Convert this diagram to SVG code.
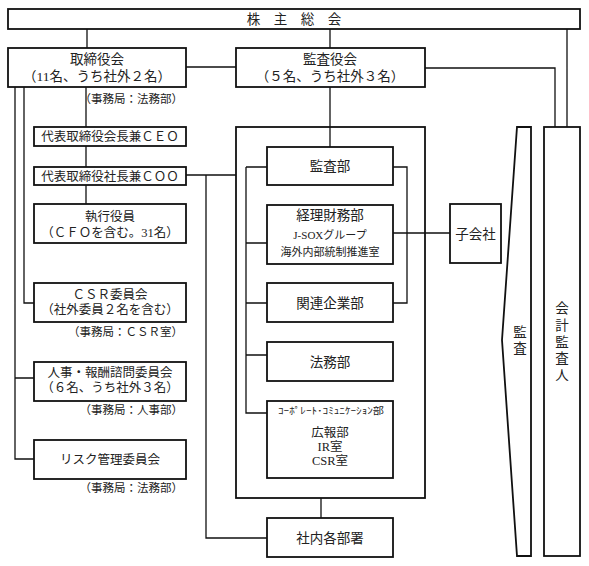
<svg xmlns="http://www.w3.org/2000/svg" width="589" height="566" viewBox="0 0 589 566">
<style>
text{font-family:"Liberation Serif","Noto Sans CJK JP",serif;fill:#222;font-size:12.5px;text-anchor:middle}
.box{fill:#fff;stroke:#111;stroke-width:1.8}
.ln{fill:none;stroke:#111;stroke-width:1.3}
.sm{font-size:11px}
.lg{font-size:13.5px}
.note{font-size:11.5px;text-anchor:end}
</style>
<rect width="589" height="566" fill="#fff"/>
<g id="connectors">
<path class="ln" d="M87 29V48M330 29V48M186 67H236M425 68H555V127M567 29V127"/>
<path class="ln" d="M86 87V204M24 87V303H34M15 87V459H34M15 378H34"/>
<path class="ln" d="M186 175H236M206 175V538H267"/>
<path class="ln" d="M330 87V147M246 167V413H267M246 167H267M246 243H267M246 303H267M246 355H267"/>
<path class="ln" d="M393 167H407V303H393M393 233H450M321 498V518"/>
</g>
<g id="shareholders"><rect class="box" x="8" y="9" width="572" height="20"/><text class="lg" x="294" y="24">株　主　総　会</text></g>
<g id="board"><rect class="box" x="8" y="48" width="178" height="39"/><text class="lg" x="97" y="64">取締役会</text><text class="lg" x="97" y="81">（11名、うち社外２名）</text></g>
<text class="note" x="183" y="103">（事務局：法務部）</text>
<g id="auditors"><rect class="box" x="236" y="48" width="189" height="39"/><text class="lg" x="330" y="64">監査役会</text><text class="lg" x="330" y="81">（５名、うち社外３名）</text></g>
<g id="ceo"><rect class="box" x="34" y="127" width="152" height="19"/><text x="110" y="141">代表取締役会長兼ＣＥＯ</text></g>
<g id="coo"><rect class="box" x="34" y="167" width="152" height="18"/><text x="110" y="180.5">代表取締役社長兼ＣＯＯ</text></g>
<g id="officers"><rect class="box" x="34" y="204" width="152" height="39"/><text x="110" y="221">執行役員</text><text x="110" y="237">（ＣＦＯを含む。31名）</text></g>
<g id="csr"><rect class="box" x="34" y="283" width="152" height="39"/><text x="110" y="299">ＣＳＲ委員会</text><text x="110" y="314">（社外委員２名を含む）</text></g>
<text class="note" x="183" y="336">（事務局：ＣＳＲ室）</text>
<g id="hr"><rect class="box" x="34" y="362" width="152" height="39"/><text x="110" y="377">人事・報酬諮問委員会</text><text x="110" y="392">（６名、うち社外３名）</text></g>
<text class="note" x="183" y="414">（事務局：人事部）</text>
<g id="risk"><rect class="box" x="34" y="440" width="152" height="39"/><text x="110" y="464">リスク管理委員会</text></g>
<text class="note" x="183" y="492">（事務局：法務部）</text>
<g id="container"><rect class="box" x="236" y="127" width="189" height="371" style="fill:none"/></g>
<g id="audit-dept"><rect class="box" x="267" y="147" width="126" height="38"/><text class="lg" x="330" y="171">監査部</text></g>
<g id="finance"><rect class="box" x="267" y="205" width="126" height="59"/><text class="lg" x="330" y="220">経理財務部</text><text class="sm" x="330" y="239">J-SOXグループ</text><text class="sm" x="330" y="256">海外内部統制推進室</text></g>
<g id="affiliates"><rect class="box" x="267" y="283" width="126" height="39"/><text class="lg" x="330" y="307.5">関連企業部</text></g>
<g id="legal"><rect class="box" x="267" y="342" width="126" height="39"/><text class="lg" x="330" y="366.5">法務部</text></g>
<g id="corpcomm"><rect class="box" x="267" y="401" width="126" height="77"/><text x="331" y="414" style="font-size:9.5px" textLength="106" lengthAdjust="spacingAndGlyphs">ｺｰﾎﾟﾚｰﾄ･ｺﾐｭﾆｹｰｼｮﾝ部</text><text x="330" y="437">広報部</text><text x="330" y="451">IR室</text><text x="330" y="465">CSR室</text></g>
<g id="internal"><rect class="box" x="267" y="518" width="126" height="39"/><text class="lg" x="330" y="542.5">社内各部署</text></g>
<g id="subsidiaries"><rect class="box" x="450" y="204" width="51" height="59"/><text class="lg" x="475.5" y="238.5">子会社</text></g>
<g id="audit"><path class="box" d="M517 127H531V556H517L502 340Z"/><text class="lg" x="520" y="337">監</text><text class="lg" x="520" y="353">査</text></g>
<g id="accountant"><rect class="box" x="544" y="127" width="36" height="429"/><text class="lg" x="562" y="313">会</text><text class="lg" x="562" y="330">計</text><text class="lg" x="562" y="347">監</text><text class="lg" x="562" y="363">査</text><text class="lg" x="562" y="380">人</text></g>
</svg>
